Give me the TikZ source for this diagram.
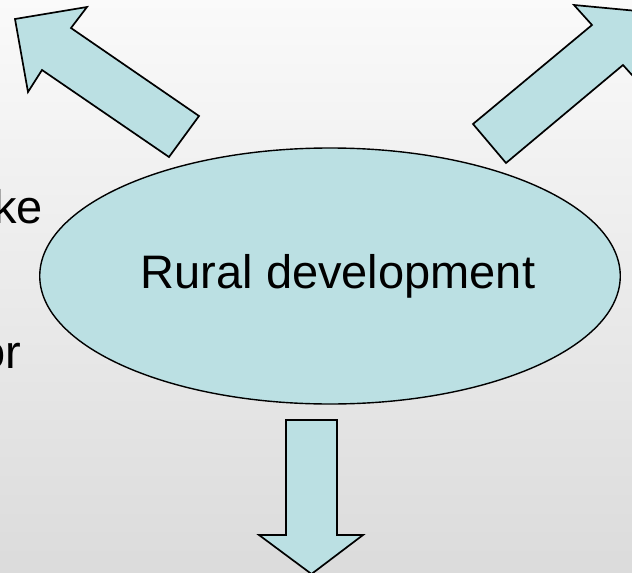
\documentclass[tikz,border=0pt]{standalone}
\usepackage{fontspec}
\setmainfont{Liberation Sans}
\usetikzlibrary{shapes.geometric}
\definecolor{paleblue}{HTML}{BBE0E3}
\begin{document}
\begin{tikzpicture}[
  x=1pt, y=-1pt,
  font=\fontsize{47}{50}\selectfont,
  bubble/.style={draw,line width=1.4pt,ellipse,fill=paleblue,inner sep=0pt,
    minimum width=575pt,minimum height=256pt},
  blockarrow/.style={draw,line width=1.7pt,line join=miter,fill=paleblue},
  every node/.style={align=center}]

  % page and background
  \useasboundingbox (0,0) rectangle (632,573);
  \shade[top color=white!98!black, bottom color=white!86!black] (0,0) rectangle (632,573);
  \clip (0,0) rectangle (632,573);

  % cut text on the left
  \node[anchor=base east,inner sep=0pt] (ke) at (43,223) {ke};
  \node[anchor=base east,inner sep=0pt] (or) at (21,368) {or};

  % centre
  \node[bubble] (rural) at (330,276) {\hspace*{16pt}Rural development};

  % block arrows
  \draw[blockarrow] (199,116) -- (71,28) -- (87,7) -- (15,19) -- (28,92)
      -- (42,70) -- (169,157) -- cycle;
  \draw[blockarrow] (473,124) -- (592,25) -- (574,5) -- (648,12) -- (641,85)
      -- (623,65) -- (506,163) -- cycle;
  \draw[blockarrow] (286,420) -- (337,420) -- (337,535) -- (363,535)
      -- (311.5,574) -- (259,535) -- (286,535) -- cycle;

\end{tikzpicture}
\end{document}
